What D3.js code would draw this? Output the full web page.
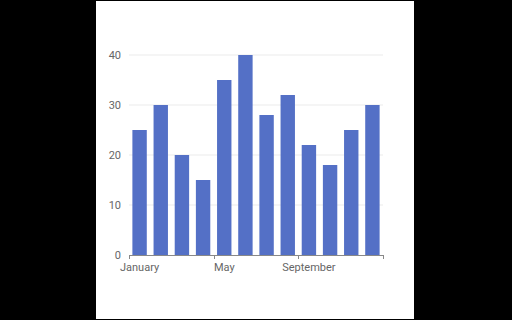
<!DOCTYPE html>
<html>
<head>
<meta charset="utf-8">
<script src="https://cdn.jsdelivr.net/npm/d3@7"></script>
<style>
  html, body { margin: 0; padding: 0; background: #000; }
  svg { display: block; }
</style>
</head>
<body>
<svg id="chart" width="512" height="320"></svg>
<script>
var months = ["January","February","March","April","May","June","July","August","September","October","November","December"]
var values = [25, 30, 20, 15, 35, 40, 28, 32, 22, 18, 25, 30]
var y_ticks = [0, 10, 20, 30, 40]
var x_labels = ["January", "May", "September"]

var svg = d3.select("#chart")

// white card
svg.append("rect")
    .attr("x", 96).attr("y", 1)
    .attr("width", 318).attr("height", 318)
    .attr("fill", "#fff")

var left = 129, right = 383, bottom = 255

var x = d3.scaleBand()
    .domain(months)
    .range([left, right])
    .paddingInner(0.32)
    .paddingOuter(0.16)

var step = (right - left) / months.length

var y = d3.scaleLinear()
    .domain([0, 40])
    .range([bottom, 55])

// grid
svg.append("g").selectAll("line")
    .data(y_ticks.filter(function(d){ return d > 0 }))
    .enter()
    .append("line")
    .attr("x1", left).attr("x2", right)
    .attr("y1", function(d){ return y(d) })
    .attr("y2", function(d){ return y(d) })
    .attr("stroke", "#ebebeb")
    .attr("stroke-width", 1)

// y labels
svg.append("g").selectAll("text")
    .data(y_ticks)
    .enter()
    .append("text")
    .attr("x", 121)
    .attr("y", function(d){ return y(d) + 4 })
    .attr("text-anchor", "end")
    .attr("font-family", "Roboto")
    .attr("font-size", 11)
    .attr("fill", "#666")
    .text(function(d){ return d })

// bars
svg.append("g").selectAll("rect")
    .data(values)
    .enter()
    .append("rect")
    .attr("x", function(d, i){ return x(months[i]) })
    .attr("width", x.bandwidth())
    .attr("y", function(d){ return y(d) })
    .attr("height", function(d){ return bottom - y(d) })
    .attr("fill", "#5470c6")

// x axis line
svg.append("line")
    .attr("x1", left).attr("x2", right)
    .attr("y1", bottom + 0.5).attr("y2", bottom + 0.5)
    .attr("stroke", "#888")

// ticks at band starts for labelled months, plus the end
var tick_pos = x_labels.map(function(m){ return left + months.indexOf(m) * step })
tick_pos.push(right)
svg.append("g").selectAll("line")
    .data(tick_pos)
    .enter()
    .append("line")
    .attr("x1", function(d){ return Math.round(d) + 0.5 })
    .attr("x2", function(d){ return Math.round(d) + 0.5 })
    .attr("y1", bottom).attr("y2", bottom + 4)
    .attr("stroke", "#888")

svg.append("g").selectAll("text")
    .data(x_labels)
    .enter()
    .append("text")
    .attr("x", function(d){ return left + (months.indexOf(d) + 0.5) * step })
    .attr("y", 271)
    .attr("text-anchor", "middle")
    .attr("font-family", "Roboto")
    .attr("font-size", 11)
    .attr("fill", "#666")
    .text(function(d){ return d })
</script>
</body>
</html>
